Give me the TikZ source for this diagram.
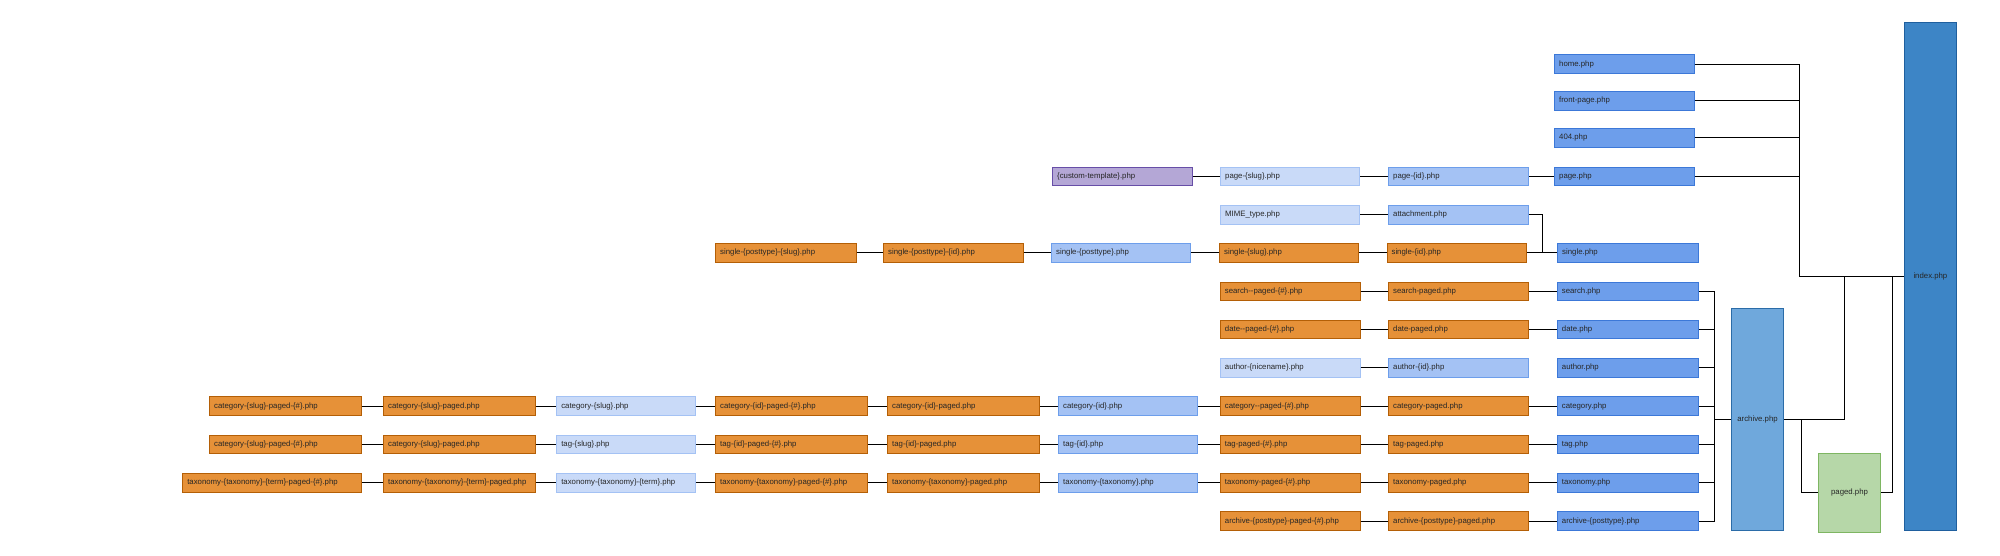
\documentclass[tikz,border=0pt]{standalone}
\usepackage{fontspec}
\setmainfont{Liberation Sans}
\usepackage{tikz}

\definecolor{orfill}{HTML}{E69138}
\definecolor{ordraw}{HTML}{B45F06}
\definecolor{pafill}{HTML}{C9DAF8}
\definecolor{padraw}{HTML}{A4C2F4}
\definecolor{mifill}{HTML}{A4C2F4}
\definecolor{midraw}{HTML}{6D9EEB}
\definecolor{bafill}{HTML}{6D9EEB}
\definecolor{badraw}{HTML}{3C78D8}
\definecolor{arfill}{HTML}{6FA8DC}
\definecolor{ardraw}{HTML}{2B6CA8}
\definecolor{ixfill}{HTML}{3D85C6}
\definecolor{ixdraw}{HTML}{1F5F9E}
\definecolor{grfill}{HTML}{B6D7A8}
\definecolor{grdraw}{HTML}{7EB662}
\definecolor{cufill}{HTML}{B4A7D6}
\definecolor{cudraw}{HTML}{674EA7}
\newcommand{\tplfont}{\fontsize{7.8pt}{9pt}\selectfont}

\begin{document}
\begin{tikzpicture}[x=1pt,y=-1pt,
  tpl/.style={draw,anchor=west,line width=0.8pt,inner xsep=4.5pt,inner ysep=0pt,
    minimum height=18.5pt,text width=#1pt,align=left,font=\tplfont,text=black!85},
  tpl/.default=131,
  ob/.style={fill=orfill,draw=ordraw},
  pb/.style={fill=pafill,draw=padraw},
  mb/.style={fill=mifill,draw=midraw},
  bb/.style={fill=bafill,draw=badraw},
  big/.style={draw,line width=0.8pt,inner sep=0pt,font=\tplfont,text=black!85},
  wire/.style={line width=0.9pt}]
 \useasboundingbox (0,0) rectangle (2000,555);

 % top row
 \node[tpl=130.4,bb] (H) at (1554.3,64) {home.php};
 \node[tpl=130.4,bb] (F) at (1554.3,100.8) {front-page.php};
 \node[tpl=130.4,bb] (E) at (1554.3,137.8) {404.php};

 \node[tpl=131,fill=cufill,draw=cudraw] (P1) at (1052.3,176.3) {\{custom-template\}.php};
 \node[tpl=130,pb] (P2) at (1220.3,176.3) {page-\{slug\}.php};
 \node[tpl=131,mb] (P3) at (1388.3,176.3) {page-\{id\}.php};
 \node[tpl=130.4,bb] (P4) at (1554.3,176.3) {page.php};

 \node[tpl=130,pb] (M1) at (1220.3,214.7) {MIME\_type.php};
 \node[tpl=130.4,mb] (M2) at (1388.3,214.7) {attachment.php};

 \node[tpl=131.4,ob] (S1) at (715.3,252.7) {single-\{posttype\}-\{slug\}.php};
 \node[tpl=130.4,ob] (S2) at (883.3,252.7) {single-\{posttype\}-\{id\}.php};
 \node[tpl=130,mb] (S3) at (1051.3,252.7) {single-\{posttype\}.php};
 \node[tpl=130,ob] (S4) at (1219.3,252.7) {single-\{slug\}.php};
 \node[tpl=130.3,ob] (S5) at (1386.7,252.7) {single-\{id\}.php};
 \node[tpl=131.4,bb] (S6) at (1557.3,252.7) {single.php};

 % archive rows
 \node[tpl=130.7,ob] (Q1) at (1220,291.2) {search-{}-paged-\{\#\}.php};
 \node[tpl=130.4,ob] (Q2) at (1388.3,291.2) {search-paged.php};
 \node[tpl=131.7,bb] (Q3) at (1557,291.2) {search.php};

 \node[tpl=130.7,ob] (D1) at (1220,329.5) {date-{}-paged-\{\#\}.php};
 \node[tpl=130.4,ob] (D2) at (1388.3,329.5) {date-paged.php};
 \node[tpl=131.7,bb] (D3) at (1557,329.5) {date.php};

 \node[tpl=130.7,pb] (A1) at (1220,367.8) {author-\{nicename\}.php};
 \node[tpl=130.4,mb] (A2) at (1388.3,367.8) {author-\{id\}.php};
 \node[tpl=131.7,bb] (A3) at (1557,367.8) {author.php};

 \node[tpl=143,ob] (C1) at (209.3,406.1) {category-\{slug\}-paged-\{\#\}.php};
 \node[tpl=143,ob] (C2) at (383.2,406.1) {category-\{slug\}-paged.php};
 \node[tpl=129.7,pb] (C3) at (556.4,406.1) {category-\{slug\}.php};
 \node[tpl=143,ob] (C4) at (715.3,406.1) {category-\{id\}-paged-\{\#\}.php};
 \node[tpl=143,ob] (C5) at (887.3,406.1) {category-\{id\}-paged.php};
 \node[tpl=130,mb] (C6) at (1058.3,406.1) {category-\{id\}.php};
 \node[tpl=130.7,ob] (C7) at (1220,406.1) {category-{}-paged-\{\#\}.php};
 \node[tpl=130.4,ob] (C8) at (1388.3,406.1) {category-paged.php};
 \node[tpl=131.7,bb] (C9) at (1557,406.1) {category.php};

 \node[tpl=143,ob] (T1) at (209.3,444.4) {category-\{slug\}-paged-\{\#\}.php};
 \node[tpl=143,ob] (T2) at (383.2,444.4) {category-\{slug\}-paged.php};
 \node[tpl=129.7,pb] (T3) at (556.4,444.4) {tag-\{slug\}.php};
 \node[tpl=143,ob] (T4) at (715.3,444.4) {tag-\{id\}-paged-\{\#\}.php};
 \node[tpl=143,ob] (T5) at (887.3,444.4) {tag-\{id\}-paged.php};
 \node[tpl=130,mb] (T6) at (1058.3,444.4) {tag-\{id\}.php};
 \node[tpl=130.7,ob] (T7) at (1220,444.4) {tag-paged-\{\#\}.php};
 \node[tpl=130.4,ob] (T8) at (1388.3,444.4) {tag-paged.php};
 \node[tpl=131.7,bb] (T9) at (1557,444.4) {tag.php};

 \node[tpl=170,ob] (X1) at (182.4,482.7) {taxonomy-\{taxonomy\}-\{term\}-paged-\{\#\}.php};
 \node[tpl=143,ob] (X2) at (383.2,482.7) {taxonomy-\{taxonomy\}-\{term\}-paged.php};
 \node[tpl=129.7,pb] (X3) at (556.4,482.7) {taxonomy-\{taxonomy\}-\{term\}.php};
 \node[tpl=143,ob] (X4) at (715.3,482.7) {taxonomy-\{taxonomy\}-paged-\{\#\}.php};
 \node[tpl=143,ob] (X5) at (887.3,482.7) {taxonomy-\{taxonomy\}-paged.php};
 \node[tpl=130,mb] (X6) at (1058.3,482.7) {taxonomy-\{taxonomy\}.php};
 \node[tpl=130.7,ob] (X7) at (1220,482.7) {taxonomy-paged-\{\#\}.php};
 \node[tpl=130.4,ob] (X8) at (1388.3,482.7) {taxonomy-paged.php};
 \node[tpl=131.7,bb] (X9) at (1557,482.7) {taxonomy.php};

 \node[tpl=130.7,ob] (V1) at (1220,521) {archive-\{posttype\}-paged-\{\#\}.php};
 \node[tpl=130.4,ob] (V2) at (1388.3,521) {archive-\{posttype\}-paged.php};
 \node[tpl=131.7,bb] (V3) at (1557,521) {archive-\{posttype\}.php};

 % the tall ones
 \node[big,fill=arfill,draw=ardraw,minimum width=52.4pt,minimum height=222pt] (AR) at (1757.5,419.3) {archive.php};
 \node[big,fill=grfill,draw=grdraw,minimum width=62.4pt,minimum height=79pt] (PG) at (1849.5,492.8) {paged.php};
 \node[big,fill=ixfill,draw=ixdraw,minimum width=52.2pt,minimum height=508pt] (IX) at (1930.4,276.3) {index.php};

 \coordinate (J1) at (1799.3,276.3);
 \coordinate (J2) at (1844.3,276.3);
 \coordinate (J3) at (1892.3,276.3);
 \coordinate (J4) at (1714.3,419.3);
 \coordinate (J5) at (1801.3,419.3);
 \coordinate (J6) at (1542.3,252.7);

 \draw[wire] (P1) -- (P2);
 \draw[wire] (P2) -- (P3);
 \draw[wire] (P3) -- (P4);
 \draw[wire] (M1) -- (M2);
 \foreach \i/\j in {1/2,2/3,3/4,4/5,5/6}
   \draw[wire] (S\i) -- (S\j);
 \draw[wire] (M2) -| (J6) -- (S6);
 \foreach \r in {Q,D,V}
   \draw[wire] (\r1) -- (\r2) (\r2) -- (\r3);
 \draw[wire] (A1) -- (A2);
 \foreach \r in {C,T,X}
   \foreach \i/\j in {1/2,2/3,3/4,4/5,5/6,6/7,7/8,8/9}
     \draw[wire] (\r\i) -- (\r\j);

 \foreach \n in {H,F,E,P4}
   \draw[wire] (\n) -| (J1);
 \draw[wire] (J1) -- (IX);
 \foreach \n in {Q3,D3,A3,C9,T9,X9,V3}
   \draw[wire] (\n) -| (J4);
 \draw[wire] (J4) -- (AR);
 \draw[wire] (AR) -| (J2);
 \draw[wire] (J5) |- (PG);
 \draw[wire] (PG) -| (J3);
\end{tikzpicture}
\end{document}
